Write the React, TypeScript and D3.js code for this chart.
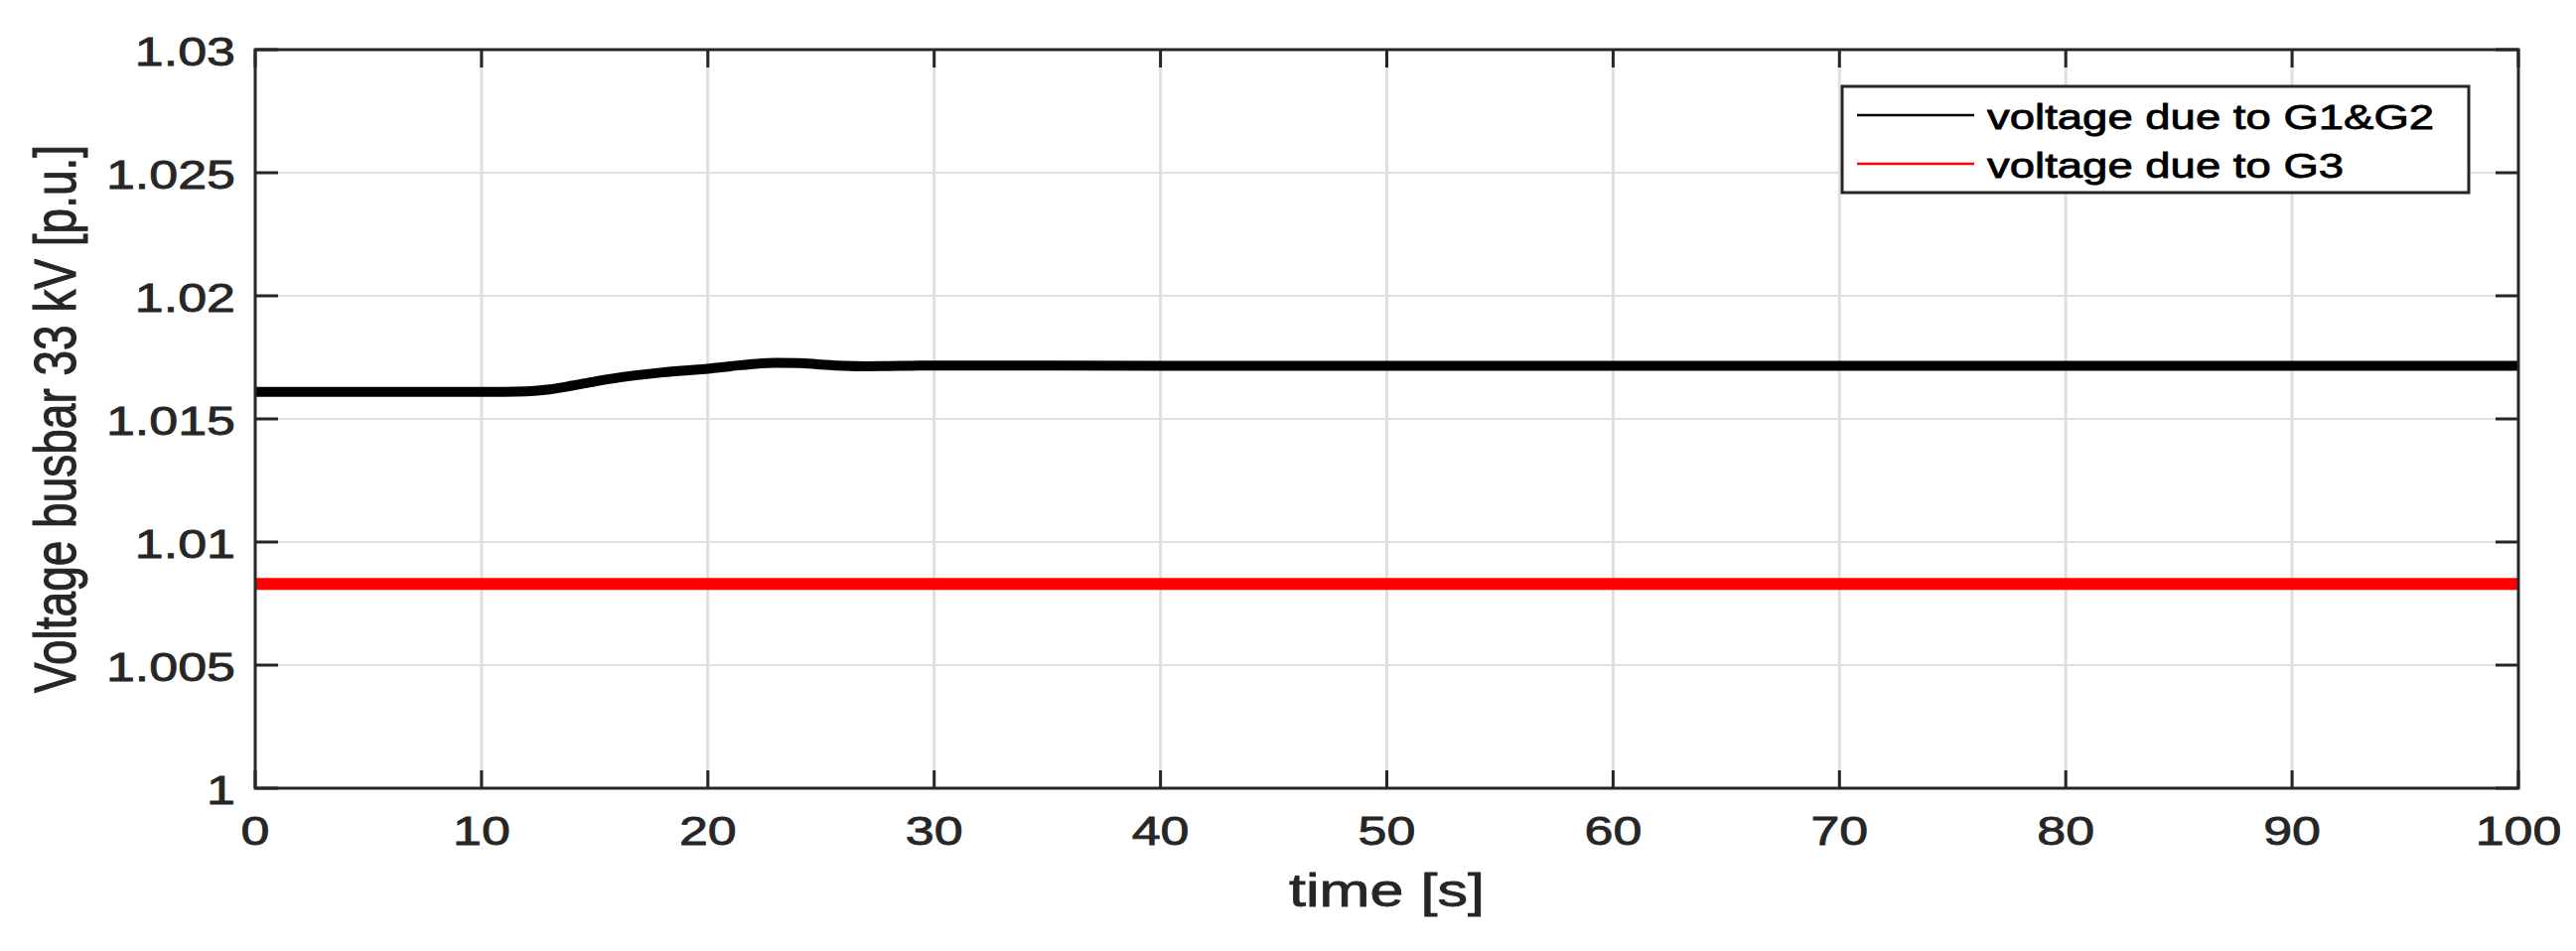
import { useMemo } from 'react';
import * as d3 from 'd3';

// figure was stretched sideways, so every text gets this x-scale
const STRETCH = 1.3;
const FONT = '"Liberation Sans", Arial, Helvetica, sans-serif';
const AXIS_COLOUR = '#262626';
const GRID_COLOUR = '#dfdfdf';

const X_TICKS = [0, 10, 20, 30, 40, 50, 60, 70, 80, 90, 100];
const Y_TICKS = [1, 1.005, 1.01, 1.015, 1.02, 1.025, 1.03];
const Y_TICK_LABELS = ['1', '1.005', '1.01', '1.015', '1.02', '1.025', '1.03'];

// voltage due to G1&G2
const timeG12 = [
    0, 5, 10, 11, 12, 13, 14, 15, 16, 17, 18, 19, 20, 21, 22, 23, 24, 25, 26, 27, 28, 29, 30,
    40, 50, 60, 70, 80, 90, 100,
];
const voltageG12 = [
    1.0161, 1.0161, 1.0161, 1.0161, 1.01612, 1.0162, 1.01635, 1.01652, 1.01667, 1.01679,
    1.01689, 1.01697, 1.01704, 1.01714, 1.01723, 1.01728, 1.01727, 1.01721, 1.01716, 1.01714,
    1.01715, 1.01716, 1.01717, 1.01716, 1.01716, 1.01716, 1.01716, 1.01716, 1.01716, 1.01716,
];

// voltage due to G3
const timeG3 = [0, 25, 50, 75, 100];
const voltageG3 = [1.0083, 1.0083, 1.0083, 1.0083, 1.0083];

const legendItems = [
    { label: 'voltage due to G1&G2', colour: '#000000' },
    { label: 'voltage due to G3', colour: '#ff0000' },
];

const width = 2594;
const height = 958;
const margin = { top: 50, right: 58, bottom: 164, left: 257 };

interface Pt {
    t: number;
    v: number;
}

function StretchText(props: {
    x: number;
    y: number;
    size: number;
    anchor?: 'start' | 'middle' | 'end';
    fill?: string;
    rotate?: number;
    children: string;
}) {
    const { x, y, size, anchor = 'start', fill = AXIS_COLOUR, rotate = 0, children } = props;
    return (
        <text
            transform={`translate(${x},${y}) scale(${STRETCH},1) rotate(${rotate})`}
            textAnchor={anchor}
            fontSize={size}
            fontFamily={FONT}
            fill={fill}
            stroke={fill}
            strokeWidth={0.8}
        >
            {children}
        </text>
    );
}

export default function App() {
    const x0 = margin.left;
    const x1 = width - margin.right;
    const y0 = height - margin.bottom;
    const y1 = margin.top;

    const xScale = useMemo(() => d3.scaleLinear().domain([0, 100]).range([x0, x1]), [x0, x1]);
    const yScale = useMemo(() => d3.scaleLinear().domain([1, 1.03]).range([y0, y1]), [y0, y1]);

    const line = d3
        .line<Pt>()
        .x((d) => xScale(d.t))
        .y((d) => yScale(d.v))
        .curve(d3.curveMonotoneX);

    const g12 = timeG12.map((t, i) => ({ t, v: voltageG12[i] }));
    const g3 = timeG3.map((t, i) => ({ t, v: voltageG3[i] }));

    const tickX = 23; // horizontal tick length (y axis)
    const tickY = 18; // vertical tick length (x axis)

    const legend = { x: 1855, y: 87, w: 631, h: 107 };

    return (
        <svg
            width={width}
            height={height}
            viewBox={`0 0 ${width} ${height}`}
            style={{ position: 'absolute', left: 0, top: 0, background: '#fff' }}
        >
            <rect x={0} y={0} width={width} height={height} fill="#fff" />

            {/* grid */}
            <g>
                {X_TICKS.slice(1, -1).map((t) => (
                    <line
                        key={`gx${t}`}
                        x1={xScale(t)}
                        x2={xScale(t)}
                        y1={y1}
                        y2={y0}
                        stroke={GRID_COLOUR}
                        strokeWidth={3}
                    />
                ))}
                {Y_TICKS.slice(1, -1).map((v) => (
                    <line
                        key={`gy${v}`}
                        x1={x0}
                        x2={x1}
                        y1={yScale(v)}
                        y2={yScale(v)}
                        stroke={GRID_COLOUR}
                        strokeWidth={2}
                    />
                ))}
            </g>

            {/* data */}
            <path
                d={line(g3) ?? ''}
                fill="none"
                stroke="#ff0000"
                strokeWidth={12}
            />
            <path
                d={line(g12) ?? ''}
                fill="none"
                stroke="#000000"
                strokeWidth={10}
            />

            {/* ticks on all four sides */}
            <g stroke={AXIS_COLOUR} strokeWidth={3}>
                {X_TICKS.map((t) => (
                    <g key={`tx${t}`}>
                        <line x1={xScale(t)} x2={xScale(t)} y1={y0} y2={y0 - tickY} />
                        <line x1={xScale(t)} x2={xScale(t)} y1={y1} y2={y1 + tickY} />
                    </g>
                ))}
                {Y_TICKS.map((v) => (
                    <g key={`ty${v}`}>
                        <line x1={x0} x2={x0 + tickX} y1={yScale(v)} y2={yScale(v)} />
                        <line x1={x1} x2={x1 - tickX} y1={yScale(v)} y2={yScale(v)} />
                    </g>
                ))}
            </g>
            <rect
                x={x0}
                y={y1}
                width={x1 - x0}
                height={y0 - y1}
                fill="none"
                stroke={AXIS_COLOUR}
                strokeWidth={3}
            />

            {/* tick labels */}
            {X_TICKS.map((t) => (
                <StretchText key={`lx${t}`} x={xScale(t)} y={y0 + 57} size={40} anchor="middle">
                    {String(t)}
                </StretchText>
            ))}
            {Y_TICKS.map((v, i) => (
                <StretchText key={`ly${v}`} x={x0 - 20} y={yScale(v) + 16} size={40} anchor="end">
                    {Y_TICK_LABELS[i]}
                </StretchText>
            ))}

            {/* axis labels */}
            <StretchText x={(x0 + x1) / 2} y={913} size={47} anchor="middle">
                time [s]
            </StretchText>
            <StretchText x={76} y={(y0 + y1) / 2} size={46} anchor="middle" rotate={-90}>
                Voltage busbar 33 kV [p.u.]
            </StretchText>

            {/* legend */}
            <g>
                <rect
                    x={legend.x}
                    y={legend.y}
                    width={legend.w}
                    height={legend.h}
                    fill="#fff"
                    stroke={AXIS_COLOUR}
                    strokeWidth={3}
                />
                {legendItems.map((item, i) => {
                    const cy = legend.y + 29 + i * 49;
                    return (
                        <g key={item.label}>
                            <line
                                x1={legend.x + 15}
                                x2={legend.x + 133}
                                y1={cy}
                                y2={cy}
                                stroke={item.colour}
                                strokeWidth={2.5}
                            />
                            <StretchText x={legend.x + 146} y={cy + 14} size={35} fill="#000">
                                {item.label}
                            </StretchText>
                        </g>
                    );
                })}
            </g>
        </svg>
    );
}
